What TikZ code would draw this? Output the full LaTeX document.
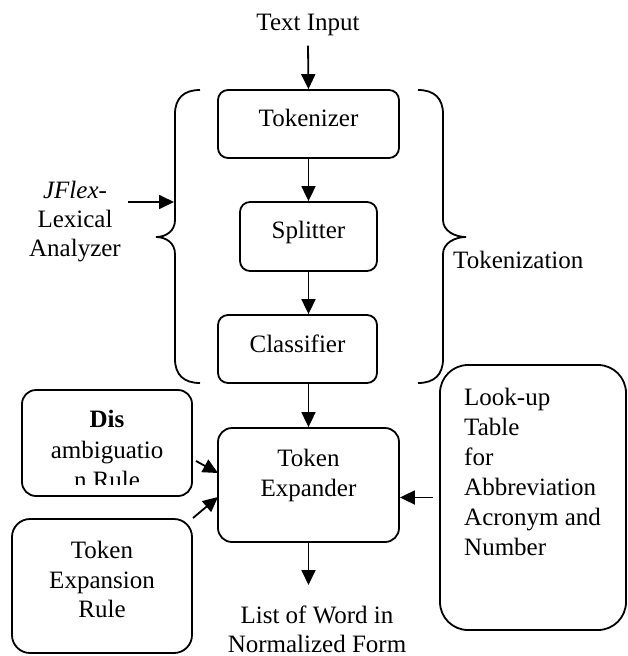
\documentclass[tikz,border=0pt]{standalone}
\usepackage{fontspec}
\setmainfont{Liberation Serif}
\usetikzlibrary{arrows.meta}
\begin{document}
\begin{tikzpicture}[x=1pt,y=-1pt,
  box/.style={draw,line width=1.8pt,rounded corners=10pt,inner sep=0pt},
  lbl/.style={anchor=base,inner sep=0pt,font=\fontsize{25}{30}\selectfont},
  arr/.style={line width=1.8pt,-{Triangle[length=15pt,width=14pt]}},
  bracestyle/.style={line width=1.8pt}]
\useasboundingbox (0,0) rectangle (627,656);
% boxes
\node[box,minimum width=181pt,minimum height=68pt] (tok) at (308.5,124) {};
\node[box,minimum width=137pt,minimum height=69pt] (split) at (308.5,236.5) {};
\node[box,minimum width=159pt,minimum height=68pt] (class) at (297.5,349) {};
\node[box,minimum width=181pt,minimum height=114pt,rounded corners=14pt] (exp) at (308.5,485) {};
\node[box,minimum width=170pt,minimum height=106pt,rounded corners=14pt] (dis) at (107,443) {};
\node[box,minimum width=180pt,minimum height=134pt,rounded corners=18pt] (rule) at (102,586) {};
\node[box,minimum width=186pt,minimum height=265pt,rounded corners=28pt] (look) at (533,497.5) {};
% texts
\node[lbl] (input) at (308,30) {Text Input};
\node[lbl] (tokl) at (308.5,126) {Tokenizer};
\node[lbl] (splitl) at (308.5,238) {Splitter};
\node[lbl] (classl) at (297.5,352) {Classifier};
\node[lbl] (expl1) at (308.5,466) {Token};
\node[lbl] (expl2) at (308.5,496) {Expander};
\node[lbl] (jf1) at (75,198) {\textit{JFlex}-};
\node[lbl] (jf2) at (75,227) {Lexical};
\node[lbl] (jf3) at (75,256) {Analyzer};
\node[lbl,anchor=base west] (tokz) at (453,268) {Tokenization};
\node[lbl] (dis1) at (107,427) {\textbf{Dis}};
\node[lbl] (dis2) at (107,458) {ambiguatio};
\begin{scope}
\clip (20,470) rectangle (195,484);
\node[lbl] (dis3) at (107,488) {n Rule};
\end{scope}
\node[lbl] (rule1) at (102,558) {Token};
\node[lbl] (rule2) at (102,588) {Expansion};
\node[lbl] (rule3) at (102,617) {Rule};
\foreach \t [count=\i] in {Look-up,Table,for,Abbreviation,Acronym and,Number}
  \node[lbl,anchor=base west] (lk\i) at (464,375+30*\i) {\t};
\node[lbl] (list1) at (317,623) {List of Word in};
\node[lbl] (list2) at (317,652) {Normalized Form};
% braces
\draw[bracestyle] (200,90) .. controls (184,90) and (175,98) .. (175,114) -- (175,220)
  .. controls (175,231) and (166,237) .. (156,237) .. controls (166,237) and (175,243) .. (175,254)
  -- (175,359) .. controls (175,375) and (184,383) .. (200,383);
\draw[bracestyle] (418,90) .. controls (434,90) and (443,98) .. (443,114) -- (443,220)
  .. controls (443,231) and (455,237) .. (466,237) .. controls (455,237) and (443,243) .. (443,254)
  -- (443,359) .. controls (443,375) and (434,383) .. (418,383);
% coordinates for free ends
\coordinate (jfa) at (128,202);
\coordinate (jfb) at (174,202);
\coordinate (out) at (308.5,585);
\coordinate (disa) at (196,461);
\coordinate (disb) at (218,473);
\coordinate (rulea) at (193,518);
\coordinate (ruleb) at (218,497);
% arrows
\draw[arr] ([yshift=-10pt]input.south) -- (tok.north);
\draw[arr] (tok.south) -- (split.north);
\draw[arr] (split.south) -- (split.south |- class.north);
\draw[arr] (split.south |- class.south) -- (exp.north);
\draw[arr] (exp.south) -- (out);
\draw[arr] (jfa) -- (jfb);
\draw[arr] (disa) -- (disb);
\draw[arr] (rulea) -- (ruleb);
\draw[arr] ([xshift=-6pt]look.west) -- (look.west -| exp.east);
\end{tikzpicture}
\end{document}
